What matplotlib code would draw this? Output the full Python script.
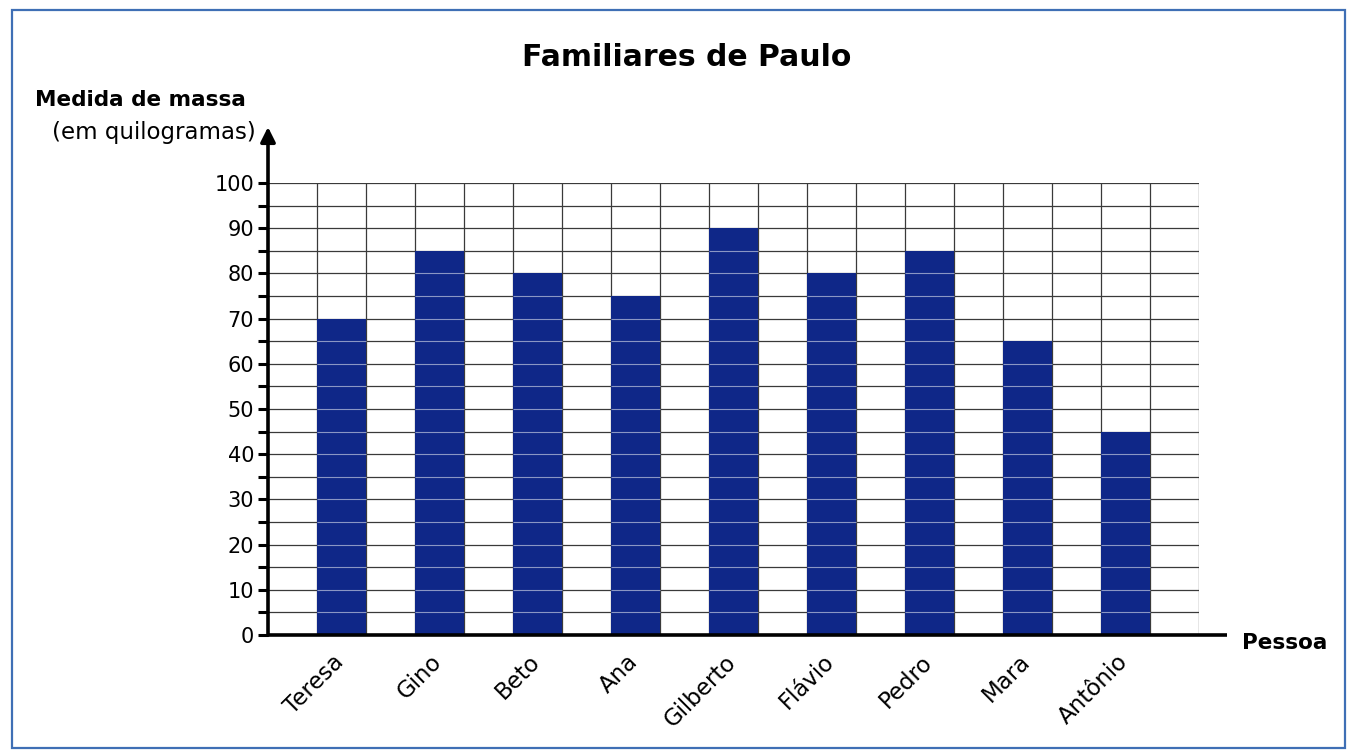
"""Bar chart: Familiares de Paulo - medida de massa."""

import matplotlib

matplotlib.use("Agg")
import matplotlib.pyplot as plt
from matplotlib.patches import Rectangle
from matplotlib.ticker import MultipleLocator
from matplotlib.transforms import ScaledTranslation

pessoas = ["Teresa", "Gino", "Beto", "Ana", "Gilberto", "Flávio", "Pedro", "Mara", "Antônio"]
massas = [70, 85, 80, 75, 90, 80, 85, 65, 45]
y_ticks = [0, 10, 20, 30, 40, 50, 60, 70, 80, 90, 100]

W, H = 1353, 754
BAR_COLOR = "#0f2788"
GRID_COLOR = "#3a3a3a"
GRID_ON_BAR = "#8a96c4"

plt.rcParams["font.family"] = ["DejaVu Sans"]

fig = plt.figure(figsize=(W / 100, H / 100), dpi=100)
fig.patch.set_facecolor("white")


def fx(px):
    return px / W


def fy(py):
    return 1 - py / H


# axes box: y-axis at x=268, grid right edge at 1199, y=0 at 635, y=100 at 183
ax = fig.add_axes([fx(268), fy(635), fx(1199) - fx(268), fy(183) - fy(635)])

n_cols = 2 * len(pessoas) + 1
x_pos = [1.5 + 2 * i for i in range(len(pessoas))]

for c in range(1, n_cols + 1):
    ax.axvline(c, color=GRID_COLOR, lw=0.9, zorder=1)
for v in range(5, 101, 5):
    ax.axhline(v, color=GRID_COLOR, lw=0.9, zorder=1)

ax.bar(x_pos, massas, width=1.0, color=BAR_COLOR, zorder=2)

# grid lines show through the bars as lighter lines
for x, m in zip(x_pos, massas):
    levels = [v for v in range(5, 101, 5) if v < m]
    ax.hlines(levels, x - 0.5, x + 0.5, color=GRID_ON_BAR, lw=0.8, zorder=3)

ax.set_xlim(0, n_cols)
ax.set_ylim(0, 100)

for side in ("top", "right", "left", "bottom"):
    ax.spines[side].set_visible(False)

ax.set_yticks(y_ticks)
ax.set_yticklabels([str(t) for t in y_ticks], fontsize=15)
ax.yaxis.set_minor_locator(MultipleLocator(5))
ax.tick_params(axis="y", which="both", direction="out", length=7, width=2.2, pad=3, color="black")

ax.set_xticks(x_pos)
ax.set_xticklabels(pessoas, fontsize=16.5, rotation=45, ha="right", va="top", rotation_mode="anchor")
ax.tick_params(axis="x", length=0, pad=11)
shift = ScaledTranslation(-0.09, 0, fig.dpi_scale_trans)
for label in ax.get_xticklabels():
    label.set_transform(label.get_transform() + shift)

# axis lines: arrow on y, plain line on x
ax.annotate(
    "",
    xy=(0, (635 - 127) / 452),
    xytext=(0, 0),
    xycoords="axes fraction",
    textcoords="axes fraction",
    arrowprops=dict(arrowstyle="-|>", lw=2.6, color="black", mutation_scale=22, shrinkA=0, shrinkB=0),
    annotation_clip=False,
)
ax.plot([0, (1227 - 268) / 931], [0, 0], transform=ax.transAxes, color="black", lw=2.6,
        clip_on=False, zorder=5, solid_capstyle="butt")

fig.text(fx(687), fy(58), "Familiares de Paulo", fontsize=21.5, fontweight="bold", ha="center", va="center")
fig.text(fx(35), fy(100), "Medida de massa", fontsize=15.5, fontweight="bold", ha="left", va="center")
fig.text(fx(256), fy(132), "(em quilogramas)", fontsize=16.5, ha="right", va="center")
fig.text(fx(1242), fy(643), "Pessoa", fontsize=15.5, fontweight="bold", ha="left", va="center")

fig.patches.append(
    Rectangle((fx(12), fy(748)), fx(1345) - fx(12), fy(10) - fy(748), transform=fig.transFigure,
              fill=False, edgecolor="#3f6fb5", lw=1.6)
)

fig.savefig("out.png", dpi=100)
